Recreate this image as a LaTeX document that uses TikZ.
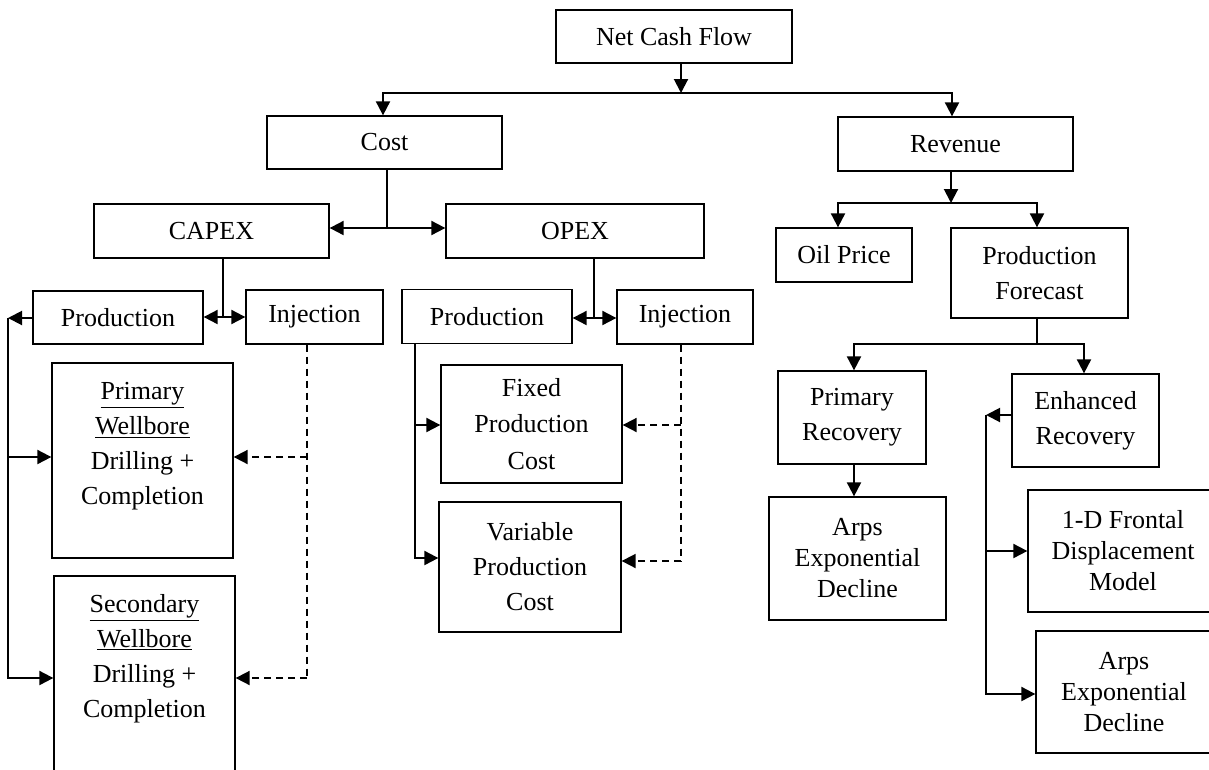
\documentclass[tikz,border=0pt]{standalone}
\usepackage{fontspec}
\setmainfont{Liberation Serif}
\usetikzlibrary{arrows.meta}
\begin{document}
\begin{tikzpicture}[x=1pt,y=-1pt,
  box/.style={draw, line width=1.3pt, inner sep=0pt, align=center,
    font=\fontsize{26}{35}\selectfont},
  txt/.style={inner sep=0pt, align=center, font=\fontsize{26}{35}\selectfont},
  tight/.style={font=\fontsize{26}{31}\selectfont},
  loose/.style={font=\fontsize{26}{36.5}\selectfont},
  conn/.style={line width=2pt, line join=miter},
  arr/.style={conn, -{Triangle[length=14pt,width=14pt]}},
  darr/.style={line width=1.8pt, dash pattern=on 7pt off 5pt, -{Triangle[length=14pt,width=14pt]}},
  dconn/.style={line width=1.8pt, dash pattern=on 7pt off 5pt}]
\useasboundingbox (0,0) rectangle (1209,769);
\clip (0,0) rectangle (1209,769);

% boxes
\node[box, minimum width=236pt, minimum height=53pt] (ncf) at (674,36.5) {Net Cash Flow};
\node[box, minimum width=235pt, minimum height=53pt] (cost) at (384.5,142.5) {Cost};
\node[box, minimum width=235pt, minimum height=54pt] (rev) at (955.5,144) {Revenue};
\node[box, minimum width=235pt, minimum height=54pt] (capex) at (211.5,231) {CAPEX};
\node[box, minimum width=258pt, minimum height=54pt] (opex) at (575,231) {OPEX};
\node[box, minimum width=170pt, minimum height=53pt] (prodA) at (118,317.5) {Production};
\node[box, minimum width=137pt, minimum height=54pt] (injA) at (314.5,317) {Injection};
\node[box, minimum width=170pt, minimum height=54pt] (prodB) at (487,316.5) {Production};
\node[box, minimum width=136pt, minimum height=54pt] (injB) at (685,317) {Injection};
\node[box, minimum width=181pt, minimum height=195pt] (pw) at (142.5,460.5) {};
\node[txt, anchor=north] (pwt) at (142.5,382.5) {\underline{Primary}\\\underline{Wellbore}\\Drilling +\\Completion};
\node[box, minimum width=181pt, minimum height=200pt] (sw) at (144.5,676) {};
\node[txt, anchor=north] (swt) at (144.5,594.5) {\underline{Secondary}\\\underline{Wellbore}\\Drilling +\\Completion};
\node[box, loose, minimum width=181pt, minimum height=118pt] (fixed) at (531.5,424) {Fixed\\Production\\Cost};
\node[box, minimum width=182pt, minimum height=130pt] (var) at (530,567) {Variable\\Production\\Cost};
\node[box, minimum width=136pt, minimum height=54pt] (oil) at (844,255) {Oil Price};
\node[box, minimum width=177pt, minimum height=90pt] (pf) at (1039.5,273) {Production\\Forecast};
\node[box, minimum width=148pt, minimum height=93pt] (pr) at (852,417.5) {Primary\\Recovery};
\node[box, tight, minimum width=177pt, minimum height=123pt] (arpsA) at (857.5,558.5) {Arps\\Exponential\\Decline};
\node[box, minimum width=147pt, minimum height=93pt] (er) at (1085.5,420.5) {Enhanced\\Recovery};
\node[box, tight, minimum width=190pt, minimum height=122pt] (fd) at (1123,551) {1-D Frontal\\Displacement\\Model};
\node[box, tight, minimum width=176pt, minimum height=122pt] (arpsB) at (1124,692) {Arps\\Exponential\\Decline};

% Net cash flow
\coordinate (j0) at (681,93);
\coordinate (j0l) at (383,93);
\coordinate (j0r) at (952,93);
\draw[arr] (ncf.south -| j0) -- (j0);
\draw[arr] (j0r) -- (j0l) -- (j0l |- cost.north);
\draw[arr] (j0l) -- (j0r) -- (j0r |- rev.north);

% Cost
\coordinate (jc) at (387,228);
\draw[conn] (cost.south -| jc) -- (jc);
\draw[arr] (jc) -- (jc -| capex.east);
\draw[arr] (jc) -- (jc -| opex.west);

% CAPEX
\coordinate (jk) at (223,317);
\draw[conn] (capex.south -| jk) -- (jk);
\draw[arr] (jk) -- (jk -| prodA.east);
\draw[arr] (jk) -- (jk -| injA.west);
\coordinate (lk) at (8,318);
\coordinate (lkm) at (8,457);
\coordinate (lkb) at (8,678);
\draw[arr] (prodA.west |- lk) -- (lk);
\draw[arr] (lk) -- (lkb) -- (lkb -| sw.west);
\draw[arr] (lkm) -- (lkm -| pw.west);
\coordinate (dk) at (307,457);
\coordinate (dkb) at (307,678);
\draw[dconn] (injA.south -| dk) -- (dkb);
\draw[darr] (dk) -- (dk -| pw.east);
\draw[darr] (dkb) -- (dkb -| sw.east);

% OPEX
\coordinate (jo) at (594,318);
\draw[conn] (opex.south -| jo) -- (jo);
\draw[arr] (jo) -- (jo -| prodB.east);
\draw[arr] (jo) -- (jo -| injB.west);
\coordinate (lp) at (415,425);
\coordinate (lpb) at (415,558);
\draw[arr] (prodB.south -| lp) -- (lpb) -- (lpb -| var.west);
\draw[arr] (lp) -- (lp -| fixed.west);
\coordinate (dp) at (681,425);
\coordinate (dpb) at (681,561);
\draw[dconn] (injB.south -| dp) -- (dpb);
\draw[darr] (dp) -- (dp -| fixed.east);
\draw[darr] (dpb) -- (dpb -| var.east);

% Revenue
\coordinate (jr) at (951,203);
\coordinate (jrl) at (838,203);
\coordinate (jrr) at (1037,203);
\draw[arr] (rev.south -| jr) -- (jr);
\draw[arr] (jrr) -- (jrl) -- (jrl |- oil.north);
\draw[arr] (jrl) -- (jrr) -- (jrr |- pf.north);

% Production forecast
\coordinate (jp) at (1037,344);
\coordinate (jpl) at (854,344);
\coordinate (jpr) at (1084,344);
\draw[conn] (pf.south -| jp) -- (jp);
\draw[arr] (jpr) -- (jpl) -- (jpl |- pr.north);
\draw[arr] (jpl) -- (jpr) -- (jpr |- er.north);
\draw[arr] (pr.south -| jpl) -- (jpl |- arpsA.north);

% Enhanced recovery
\coordinate (le) at (986,415);
\coordinate (lem) at (986,551);
\coordinate (leb) at (986,694);
\draw[arr] (er.west |- le) -- (le);
\draw[arr] (le) -- (leb) -- (leb -| arpsB.west);
\draw[arr] (lem) -- (lem -| fd.west);
\end{tikzpicture}
\end{document}
